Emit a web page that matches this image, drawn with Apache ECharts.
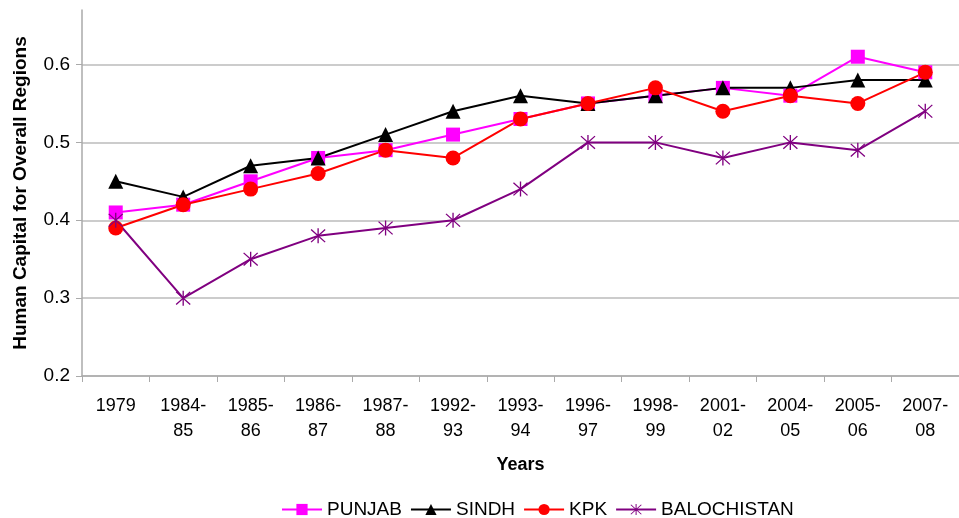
<!DOCTYPE html>
<html>
<head>
<meta charset="utf-8">
<script src="https://cdn.jsdelivr.net/npm/echarts@6/dist/echarts.min.js"></script>
<style>html,body{margin:0;padding:0;background:#fff;}#c{width:959px;height:518px;}</style>
</head>
<body>
<div id="c"></div>
<script>
const categories = ['1979','1984-\n85','1985-\n86','1986-\n87','1987-\n88','1992-\n93','1993-\n94','1996-\n97','1998-\n99','2001-\n02','2004-\n05','2005-\n06','2007-\n08'];
const punjab      = [0.41,0.42,0.45,0.48,0.49,0.51,0.53,0.55,0.56,0.57,0.56,0.61,0.59];
const sindh       = [0.45,0.43,0.47,0.48,0.51,0.54,0.56,0.55,0.56,0.57,0.57,0.58,0.58];
const kpk         = [0.39,0.42,0.44,0.46,0.49,0.48,0.53,0.55,0.57,0.54,0.56,0.55,0.59];
const balochistan = [0.40,0.30,0.35,0.38,0.39,0.40,0.44,0.50,0.50,0.48,0.50,0.49,0.54];
const seriesNames = ['PUNJAB','SINDH','KPK','BALOCHISTAN'];

const FONT = '"Liberation Sans", Arial, sans-serif';
const starPath = 'path://M9.2,0 L10.8,0 L10.8,20 L9.2,20 Z M1,2.1 L2.1,1 L19,17.9 L17.9,19 Z M17.9,1 L19,2.1 L2.1,19 L1,17.9 Z';

const chart = echarts.init(document.getElementById('c'), null, {renderer:'canvas'});
function mk(name, data, color, symbol, size) {
  return {
    name, type:'line', data, symbol, symbolSize:size,
    lineStyle:{color, width:2}, itemStyle:{color},
    emphasis:{disabled:true}, animation:false
  };
}
chart.setOption({
  animation:false,
  grid:{left:82, top:10, bottom:142, width:884},
  legend:{
    top:495, left:276, itemWidth:40, itemHeight:14, itemGap:8,
    textStyle:{fontFamily:FONT, fontSize:19, color:'#000'},
    data:seriesNames
  },
  xAxis:{
    type:'category', data:categories, boundaryGap:true,
    name:'Years', nameLocation:'middle', nameGap:80,
    nameTextStyle:{fontFamily:FONT, fontSize:18, fontWeight:'bold', color:'#000'},
    axisLine:{lineStyle:{color:'#aaa', width:1.5}},
    axisTick:{show:true, length:6, lineStyle:{color:'#aaa'}},
    axisLabel:{fontFamily:FONT, fontSize:18, color:'#000', margin:18, lineHeight:25, interval:0}
  },
  yAxis:{
    type:'value', min:0.2, max:0.67, interval:0.1,
    name:'Human Capital for Overall Regions', nameLocation:'middle', nameGap:52,
    nameTextStyle:{fontFamily:FONT, fontSize:19, fontWeight:'bold', color:'#000'},
    axisLine:{show:true, lineStyle:{color:'#aaa', width:1.5}},
    axisTick:{show:true, length:6, inside:false, lineStyle:{color:'#aaa'}},
    axisLabel:{fontFamily:FONT, fontSize:19, color:'#000', margin:12, showMaxLabel:false,
      formatter:v=>v.toFixed(1)},
    splitLine:{show:true, lineStyle:{color:['#bbb','#bbb','#bbb','#bbb','#bbb','rgba(0,0,0,0)'], width:1.5}}
  },
  series:[
    mk('PUNJAB', punjab, '#ff00ff', 'rect', 14),
    mk('SINDH', sindh, '#000000', 'triangle', 15),
    mk('KPK', kpk, '#ff0000', 'circle', 15),
    mk('BALOCHISTAN', balochistan, '#800080', starPath, 15)
  ]
});
</script>
</body>
</html>
